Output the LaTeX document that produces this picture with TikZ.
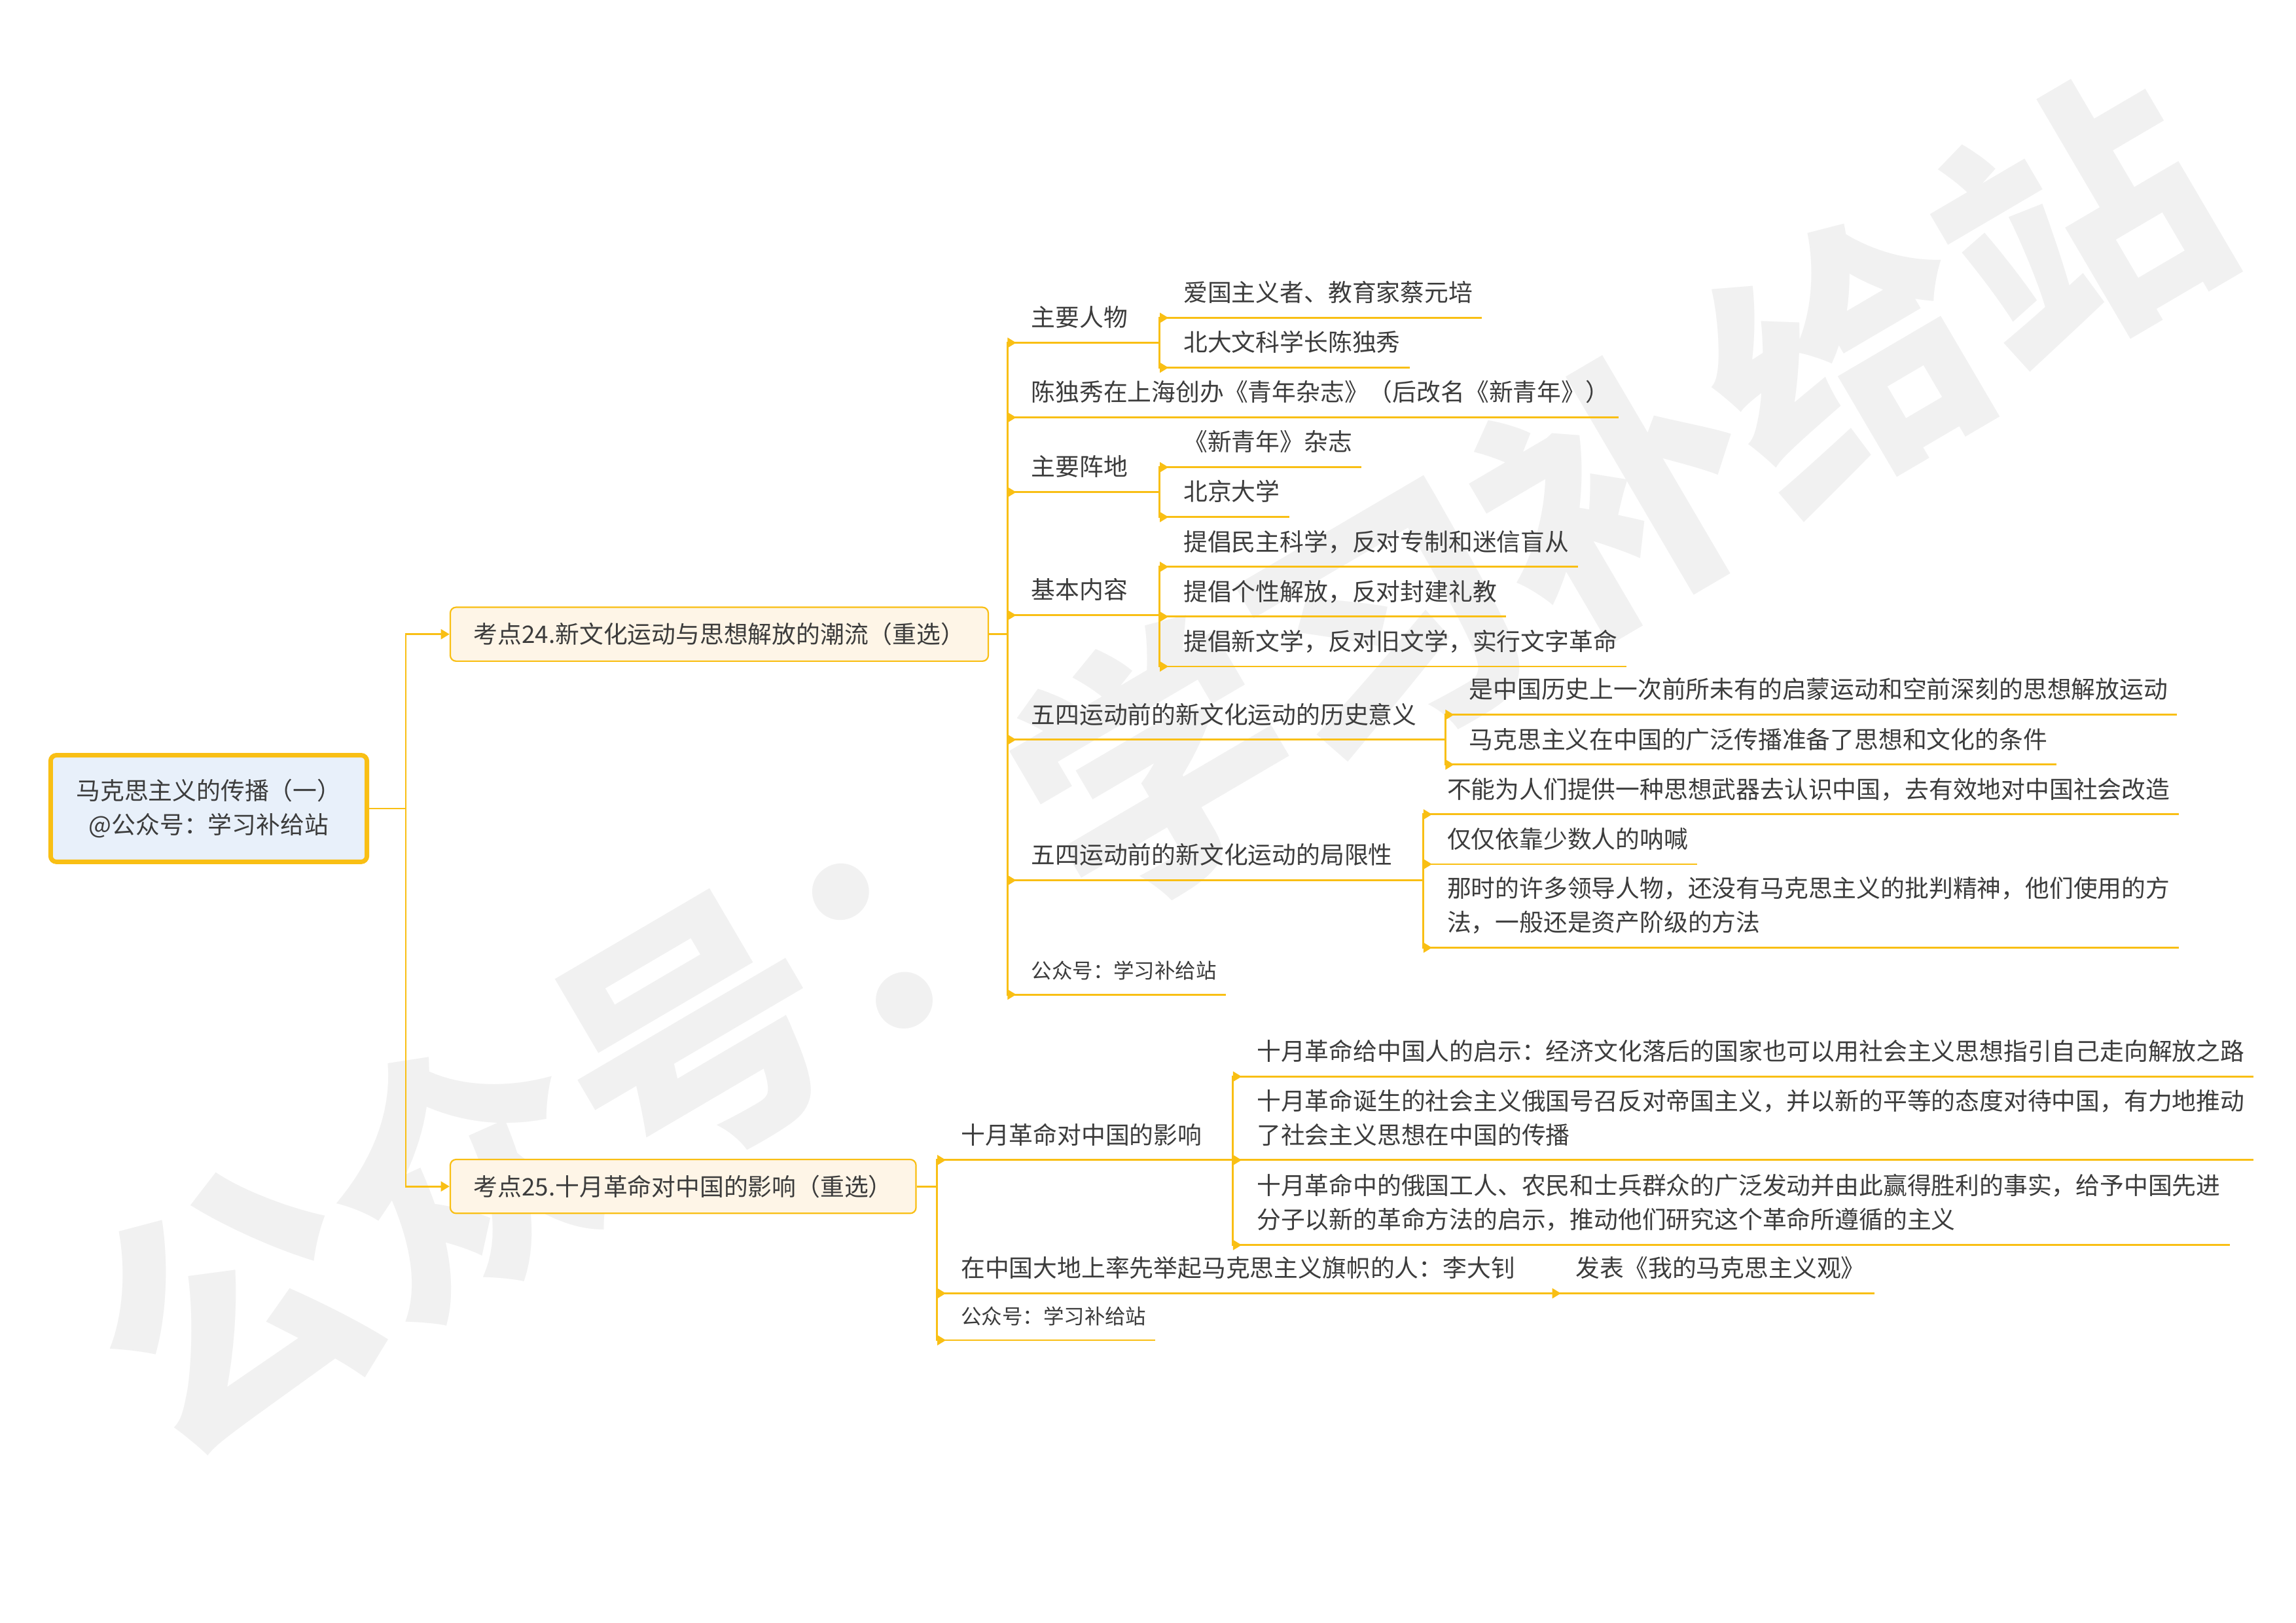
\documentclass[tikz,border=0pt]{standalone}
\usepackage{fontspec}
\setmainfont{Noto Sans CJK SC}
\usepackage{xcolor}
\usepackage{tikz}
\usetikzlibrary{arrows.meta, positioning}

\definecolor{gold}{RGB}{249,191,20}
\definecolor{ink}{RGB}{60,60,60}
\definecolor{rootfill}{RGB}{232,240,250}
\definecolor{boxfill}{RGB}{254,245,231}
\definecolor{mark}{RGB}{241,241,241}

\newcommand{\twolines}[2]{\begin{tabular}[b]{@{}l@{}}#1\\#2\end{tabular}}

\begin{document}
\begin{tikzpicture}[x=0.025cm, y=-0.025cm,
    every node/.style={text=ink, font=\fontsize{11.7}{16.5}\selectfont},
    link/.style={draw=gold, line width=0.9pt},
    arr/.style={link, -{Triangle[length=4.2pt, width=4.8pt]}},
    topic/.style={anchor=south west, inner xsep=0pt, inner ysep=0.27cm, text depth=0pt,
        execute at begin node={\hspace*{0.4cm}}, execute at end node={\hspace*{0.15cm}},
        append after command={(\tikzlastnode.south west) edge[link] (\tikzlastnode.south east)}},
    small/.style={topic, font=\fontsize{10}{14}\selectfont},
    rootbox/.style={draw=gold, line width=2.2pt, fill=rootfill, rounded corners=0.1cm,
        anchor=west, align=center, minimum width=5.4cm, minimum height=1.82cm,
        font=\fontsize{11.7}{16.8}\selectfont},
    keybox/.style={draw=gold, line width=0.7pt, fill=boxfill, rounded corners=0.1cm,
        anchor=west, inner xsep=0.4cm, minimum height=0.92cm}]
    \useasboundingbox (0,0) rectangle (1568,1108);

    % 1. 水印
    \node[text=mark, font=\fontsize{130}{130}\selectfont\bfseries, rotate=30.4] (wm) at (788,522) {公众号：学习补给站};

    % 2. 中心主题与两个考点
    \node[rootbox] (root) at (33,552) {马克思主义的传播（一）\\@公众号：学习补给站};
    \node[keybox] (k24) at (307,433) {考点24.新文化运动与思想解放的潮流（重选）};
    \node[keybox] (k25) at (307,810) {考点25.十月革命对中国的影响（重选）};

    % 3. 考点24 的分支
    \node[topic] (renwu) at (688,234) {主要人物};
    \node[topic] (qingnian) at (688,285) {陈独秀在上海创办《青年杂志》（后改名《新青年》）};
    \node[topic] (zhendi) at (688,336) {主要阵地};
    \node[topic] (neirong) at (688,420) {基本内容};
    \node[topic] (yiyi) at (688,505) {五四运动前的新文化运动的历史意义};
    \node[topic] (juxian) at (688,601) {五四运动前的新文化运动的局限性};
    \node[small] (gzh1) at (688,679) {公众号：学习补给站};

    \node[topic] (cai) at (792,217) {爱国主义者、教育家蔡元培};
    \node[topic] (chen) at (792,251) {北大文科学长陈独秀};
    \node[topic] (xqn) at (792,319) {《新青年》杂志};
    \node[topic] (beida) at (792,353) {北京大学};
    \node[topic] (nr1) at (792,387) {提倡民主科学，反对专制和迷信盲从};
    \node[topic] (nr2) at (792,421) {提倡个性解放，反对封建礼教};
    \node[topic] (nr3) at (792,455) {提倡新文学，反对旧文学，实行文字革命};
    \node[topic] (yy1) at (987,488) {是中国历史上一次前所未有的启蒙运动和空前深刻的思想解放运动};
    \node[topic] (yy2) at (987,522) {马克思主义在中国的广泛传播准备了思想和文化的条件};
    \node[topic] (jx1) at (972,556) {不能为人们提供一种思想武器去认识中国，去有效地对中国社会改造};
    \node[topic] (jx2) at (972,590) {仅仅依靠少数人的呐喊};
    \node[topic] (jx3) at (972,647) {\twolines{那时的许多领导人物，还没有马克思主义的批判精神，他们使用的方}{法，一般还是资产阶级的方法}};

    % 4. 考点25 的分支
    \node[topic] (yingxiang) at (640,792) {十月革命对中国的影响};
    \node[topic] (ldz) at (640,883) {在中国大地上率先举起马克思主义旗帜的人：李大钊};
    \node[small] (gzh2) at (640,915) {公众号：学习补给站};

    \node[topic] (yx1) at (842,735) {十月革命给中国人的启示：经济文化落后的国家也可以用社会主义思想指引自己走向解放之路};
    \node[topic] (yx2) at (842,792) {\twolines{十月革命诞生的社会主义俄国号召反对帝国主义，并以新的平等的态度对待中国，有力地推动}{了社会主义思想在中国的传播}};
    \node[topic] (yx3) at (842,850) {\twolines{十月革命中的俄国工人、农民和士兵群众的广泛发动并由此赢得胜利的事实，给予中国先进}{分子以新的革命方法的启示，推动他们研究这个革命所遵循的主义}};
    \node[topic] (fabiao) at (1060,883) {发表《我的马克思主义观》};

    % 5. 连线
    \foreach \k in {k24,k25}
        \draw[arr] (root.east) -- ++(25,0) |- (\k.west);
    \foreach \p/\kids in {k24/{renwu,qingnian,zhendi,neirong,yiyi,juxian,gzh1},
            k25/{yingxiang,ldz,gzh2}} {
        \foreach \c in \kids
            \draw[arr] (\p.east) -| (\c.south west) -- ++(6,0);
    }
    \foreach \p/\kids in {renwu/{cai,chen}, zhendi/{xqn,beida}, neirong/{nr1,nr2,nr3},
            yiyi/{yy1,yy2}, juxian/{jx1,jx2,jx3}, yingxiang/{yx1,yx2,yx3}, ldz/{fabiao}} {
        \foreach \c in \kids
            \draw[arr] (\p.south east) -| (\c.south west) -- ++(6,0);
    }
\end{tikzpicture}
\end{document}
